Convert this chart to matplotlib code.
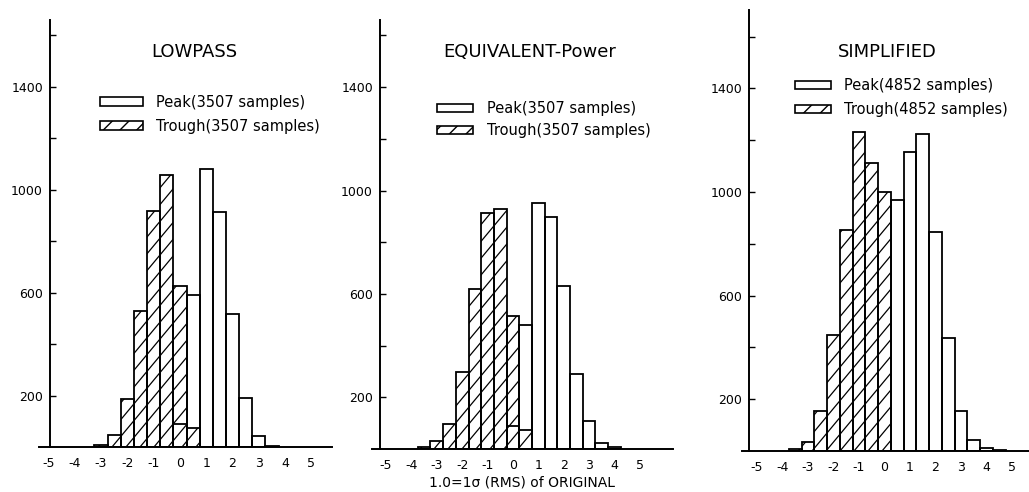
import numpy as np
import matplotlib
matplotlib.use("Agg")
import matplotlib.pyplot as plt
from matplotlib.collections import LineCollection
from matplotlib.patches import Patch

plt.rcParams["hatch.linewidth"] = 1.0
plt.rcParams["font.family"] = "DejaVu Sans"

# bin centres (units of sigma of the original signal), bin width 0.5
width = 0.5

titles = ["LOWPASS", "EQUIVALENT-Power", "SIMPLIFIED"]
samples = [3507, 3507, 4852]

# LOWPASS
lp_trough_x = [-3.0, -2.5, -2.0, -1.5, -1.0, -0.5, 0.0, 0.5]
lp_trough_y = [6, 46, 187, 529, 916, 1058, 627, 72]
lp_peak_x = [0.0, 0.5, 1.0, 1.5, 2.0, 2.5, 3.0, 3.5]
lp_peak_y = [90, 591, 1081, 913, 516, 191, 43, 5]

# EQUIVALENT-Power
eq_trough_x = [-3.5, -3.0, -2.5, -2.0, -1.5, -1.0, -0.5, 0.0, 0.5]
eq_trough_y = [8, 30, 98, 298, 619, 913, 929, 513, 75]
eq_peak_x = [0.0, 0.5, 1.0, 1.5, 2.0, 2.5, 3.0, 3.5, 4.0]
eq_peak_y = [90, 481, 950, 898, 632, 292, 107, 23, 8]

# SIMPLIFIED
si_trough_x = [-3.5, -3.0, -2.5, -2.0, -1.5, -1.0, -0.5, 0.0]
si_trough_y = [8, 36, 156, 449, 855, 1232, 1113, 1000]
si_peak_x = [0.5, 1.0, 1.5, 2.0, 2.5, 3.0, 3.5, 4.0, 4.5]
si_peak_y = [971, 1155, 1223, 845, 436, 156, 43, 10, 5]

xticks = [-5, -4, -3, -2, -1, 0, 1, 2, 3, 4, 5]
yticks_major = [200, 600, 1000, 1400]
yticks_minor = [400, 800, 1200, 1600]

panels = [
    (lp_trough_x, lp_trough_y, lp_peak_x, lp_peak_y),
    (eq_trough_x, eq_trough_y, eq_peak_x, eq_peak_y),
    (si_trough_x, si_trough_y, si_peak_x, si_peak_y),
]

# layout (figure fractions) tuned to the scanned original
rects = [
    [0.0379, 0.0915, 0.2847, 0.8679],
    [0.3615, 0.0874, 0.2925, 0.8720],
    [0.7211, 0.0833, 0.2789, 0.8963],
]
xlims = [(-5.36, 5.78), (-5.55, 6.30), (-5.59, 5.67)]
ylims = [(0, 1660), (0, 1660), (0, 1703)]
spine_pos = [0.0375, 0.0266, 0.0244]
title_pos = [(0.529, 0.925), (0.525, 0.925), (0.505, 0.905)]
legend_pos = [(0.208, 0.825), (0.216, 0.811), (0.185, 0.845)]
handle_len = [2.95, 2.5, 2.45]
label_space = [0.62, 0.5, 0.6]


def hand_hatch(ax, bars, spacing=14.0, slope=1.2):
    # steep single-direction hatching like the drawn original, clipped per bar
    to_px = ax.transData
    to_data = ax.transData.inverted()
    for bar in bars:
        x0, x1 = bar.get_x(), bar.get_x() + bar.get_width()
        (px0, py0), (px1, py1) = to_px.transform([(x0, 0), (x1, bar.get_height())])
        h = py1 - py0
        if h <= 0:
            continue
        reach = (px1 - px0) + h / slope + spacing
        ks = np.arange(np.floor((px0 - h / slope - spacing) / spacing),
                       np.ceil(px1 / spacing) + 1)
        segs = []
        for k in ks:
            c = k * spacing
            a = to_data.transform((c, py0))
            b = to_data.transform((c + reach, py0 + slope * reach))
            segs.append([a, b])
        lc = LineCollection(segs, colors="black", linewidths=0.9)
        ax.add_collection(lc, autolim=False)
        lc.set_clip_path(bar)


fig = plt.figure(figsize=(10.29, 4.92), dpi=100)

for i, (tx, ty, px, py) in enumerate(panels):
    ax = fig.add_axes(rects[i])
    ax.set_xlim(*xlims[i])
    ax.set_ylim(*ylims[i])

    troughs = ax.bar(tx, ty, width=width, facecolor="none", edgecolor="black",
                     linewidth=1.3)
    ax.bar(px, py, width=width, facecolor="none", edgecolor="black",
           linewidth=1.3)
    ax.set_xlim(*xlims[i])
    ax.set_ylim(*ylims[i])
    hand_hatch(ax, troughs)

    ax.spines["top"].set_visible(False)
    ax.spines["right"].set_visible(False)
    ax.spines["left"].set_position(("axes", spine_pos[i]))
    ax.spines["left"].set_linewidth(1.4)
    ax.spines["bottom"].set_linewidth(1.4)

    ax.set_xticks(xticks)
    ax.set_xticklabels([str(v) for v in xticks])
    ax.tick_params(axis="x", length=0, pad=7, labelsize=9)
    ax.set_yticks(yticks_major)
    ax.set_yticks(yticks_minor, minor=True)
    ax.tick_params(axis="y", which="both", direction="in", length=4,
                   width=1, pad=5, labelsize=9)

    ax.text(*title_pos[i], titles[i], transform=ax.transAxes,
            ha="center", va="center", fontsize=13)

    handles = [
        Patch(facecolor="none", edgecolor="black", linewidth=1.2),
        Patch(facecolor="none", edgecolor="black", linewidth=1.2, hatch="//"),
    ]
    labels = [f"Peak({samples[i]} samples)", f"Trough({samples[i]} samples)"]
    ax.legend(handles, labels, loc="upper left",
              bbox_to_anchor=legend_pos[i], frameon=False, borderpad=0,
              borderaxespad=0, fontsize=10.5, handlelength=handle_len[i],
              handleheight=0.5, handletextpad=0.9,
              labelspacing=label_space[i])

    if i == 1:
        ax.set_xlabel("1.0=1σ (RMS) of ORIGINAL", fontsize=10, labelpad=3)

fig.savefig("out.png", dpi=100)
